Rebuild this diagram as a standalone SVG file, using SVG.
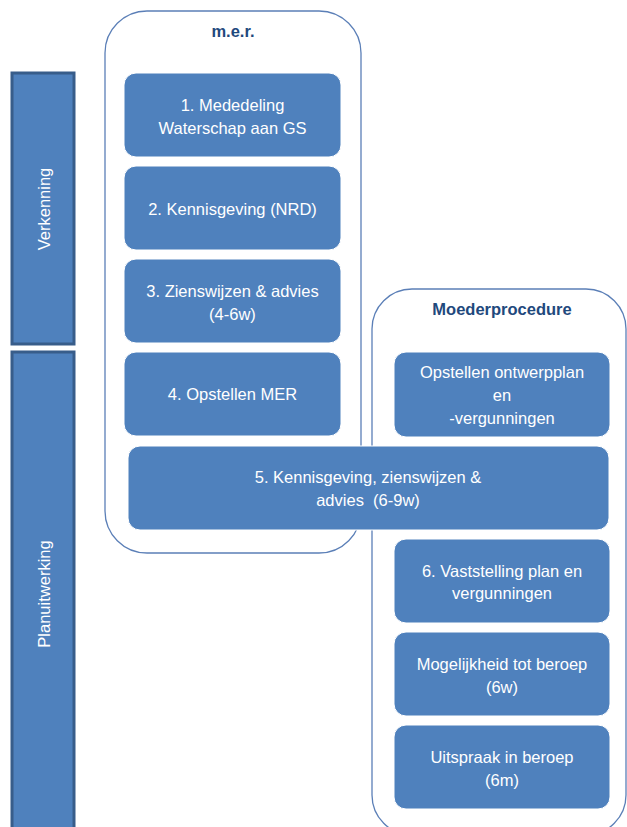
<svg xmlns="http://www.w3.org/2000/svg" width="627" height="827" viewBox="0 0 627 827">
<style>
.bar{fill:#4f81bd;stroke:#385d8a;stroke-width:3}
.cont{fill:#ffffff;stroke:#5b7fb7;stroke-width:1.3}
.box{fill:#4f81bd;stroke:#ffffff;stroke-width:1}
.t{font-family:"Liberation Sans",Arial,sans-serif;font-size:16.5px;fill:#ffffff;text-anchor:middle;white-space:pre}
.title{font-family:"Liberation Sans",Arial,sans-serif;font-size:16.5px;font-weight:bold;fill:#1f497d;text-anchor:middle}
</style>
<g id="phase-verkenning">
<rect class="bar" x="12" y="73" width="62" height="271"/>
<text class="t" transform="translate(44,209) rotate(-90)" y="6">Verkenning</text>
</g>
<g id="phase-planuitwerking">
<rect class="bar" x="12" y="352" width="62" height="490"/>
<text class="t" transform="translate(44,594) rotate(-90)" y="6">Planuitwerking</text>
</g>
<g id="container-mer">
<rect class="cont" x="105" y="11" width="256" height="542" rx="42" ry="42"/>
<text class="title" x="233" y="37">m.e.r.</text>
</g>
<g id="container-moeder">
<rect class="cont" x="372" y="289" width="254" height="546" rx="40" ry="40"/>
<text class="title" x="502" y="315">Moederprocedure</text>
</g>
<g id="connectors"></g>
<g id="n1">
<rect class="box" x="124" y="73" width="217" height="84" rx="12" ry="12"/>
<text class="t" x="232.5" y="111">1. Mededeling</text>
<text class="t" x="232.5" y="134">Waterschap aan GS</text>
</g>
<g id="n2">
<rect class="box" x="124" y="166" width="217" height="84" rx="12" ry="12"/>
<text class="t" x="232.5" y="214.5">2. Kennisgeving (NRD)</text>
</g>
<g id="n3">
<rect class="box" x="124" y="259" width="217" height="84" rx="12" ry="12"/>
<text class="t" x="232.5" y="297">3. Zienswijzen &amp; advies</text>
<text class="t" x="232.5" y="320">(4-6w)</text>
</g>
<g id="n4">
<rect class="box" x="124" y="352" width="217" height="84" rx="12" ry="12"/>
<text class="t" x="232.5" y="400">4. Opstellen MER</text>
</g>
<g id="n-opstellen">
<rect class="box" x="394" y="352" width="216" height="85" rx="12" ry="12"/>
<text class="t" x="502" y="378">Opstellen ontwerpplan</text>
<text class="t" x="502" y="401">en</text>
<text class="t" x="502" y="424">-vergunningen</text>
</g>
<g id="n5">
<rect class="box" x="128" y="446" width="481" height="84" rx="12" ry="12"/>
<text class="t" x="368" y="483">5. Kennisgeving, zienswijzen &amp;</text>
<text class="t" x="368" y="506" xml:space="preserve">advies  (6-9w)</text>
</g>
<g id="n6">
<rect class="box" x="394" y="539" width="216" height="84" rx="12" ry="12"/>
<text class="t" x="502" y="577">6. Vaststelling plan en</text>
<text class="t" x="502" y="599">vergunningen</text>
</g>
<g id="n7">
<rect class="box" x="394" y="632" width="216" height="84" rx="12" ry="12"/>
<text class="t" x="502" y="670">Mogelijkheid tot beroep</text>
<text class="t" x="502" y="693">(6w)</text>
</g>
<g id="n8">
<rect class="box" x="394" y="725" width="216" height="84" rx="12" ry="12"/>
<text class="t" x="502" y="763">Uitspraak in beroep</text>
<text class="t" x="502" y="786">(6m)</text>
</g>
</svg>
